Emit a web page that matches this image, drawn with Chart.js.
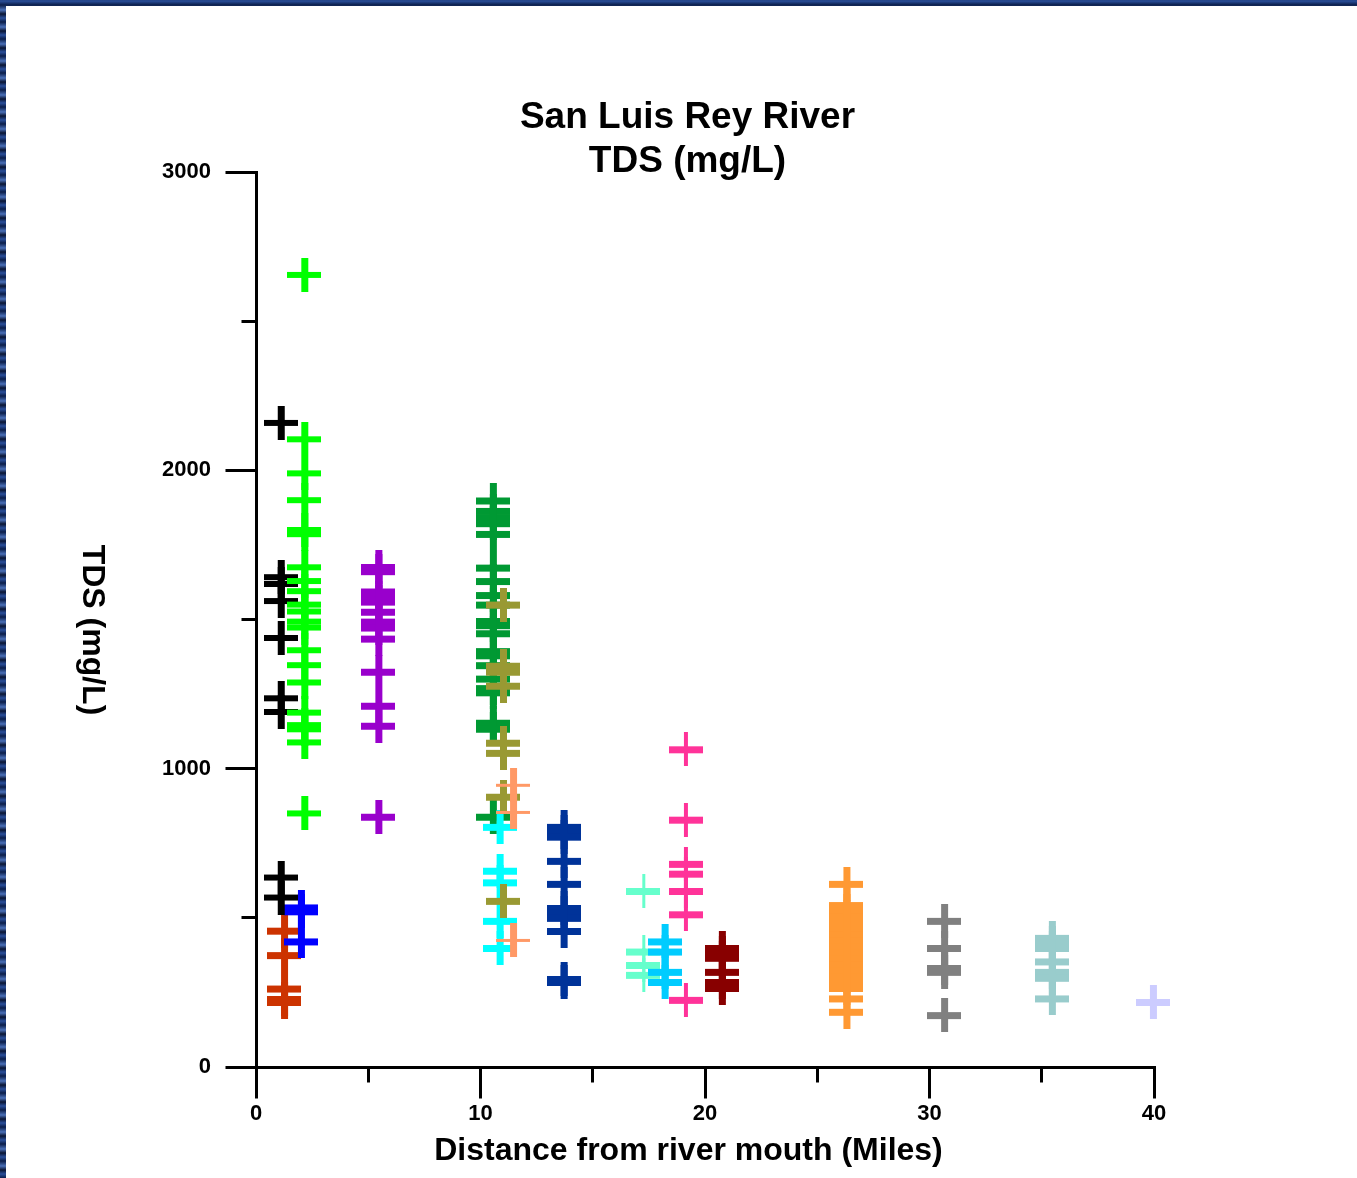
<!DOCTYPE html>
<html>
<head>
<meta charset="utf-8">
<title>San Luis Rey River TDS</title>
<script src="https://cdn.jsdelivr.net/npm/chart.js@4.4.1/dist/chart.umd.min.js"></script>
<style>
  html, body { margin: 0; padding: 0; }
  body {
    width: 1357px; height: 1178px; overflow: hidden; position: relative;
    background: repeating-linear-gradient(0deg, #0b1e4a 0px, #2a4f9a 4px, #0a1533 8px, #4a70b8 12px, #0b1e4a 17px);
  }
  #wrap { position: absolute; left: 6px; top: 6px; width: 1351px; height: 1172px; background: #fff; }
</style>
</head>
<body>
<div id="wrap"><canvas id="tds-chart"></canvas></div>
<script>
const titleLines = ['San Luis Rey River', 'TDS (mg/L)']
const xTitle = 'Distance from river mouth (Miles)'
const yTitle = 'TDS (mg/L)'

const xMajor = [0, 10, 20, 30, 40]
const xMinor = [5, 15, 25, 35]
const yMajor = [0, 1000, 2000, 3000]
const yMinor = [500, 1500, 2500]

// sites, listed top layer first (first dataset is drawn last by Chart.js)
const siteMiles = [11.45, 11.0, 10.85, 10.55, 2.15, 1.1, 2.0, 1.25, 5.45, 13.7, 18.2, 17.25, 19.15, 20.75, 26.3, 30.65, 35.45, 39.95]
const siteColors = ['#ff9966', '#999933', '#00ffff', '#009933', '#00ff00', '#000000', '#0000ff', '#cc3300', '#9900cc',
  '#003399', '#00ccff', '#66ffcc', '#ff3399', '#880000', '#ff9933', '#808080', '#99cccc', '#ccccff']
// bar thickness of the cross: [horizontal, vertical]
const siteBars = [[3, 7], [7, 7], [7, 7], [7, 7], [6, 7], [6, 7], [7, 7], [7, 7], [7, 7],
  [7, 7], [7, 7], [7, 3], [7, 4], [7, 7], [7, 7], [7, 7], [7, 7], [7, 7]]

const tdsSalmon = [946, 855, 426]
const tdsOlive = [1550, 1345, 1325, 1278, 1087, 1053, 906, 557]
const tdsCyan = [805, 658, 619, 490, 399]
const tdsDarkGreen = [1899, 1864, 1843, 1823, 1787, 1674, 1629, 1582, 1550, 1495, 1481, 1454, 1394, 1380, 1347, 1302, 1270, 1256, 1154, 1134, 839]
const tdsLime = [2655, 2104, 1990, 1900, 1800, 1786, 1675, 1629, 1595, 1550, 1527, 1493, 1473, 1397, 1347, 1289, 1188, 1146, 1132, 1088, 850]
const tdsBlack = [2159, 1642, 1619, 1562, 1438, 1236, 1190, 635, 568]
const tdsBlue = [535, 522, 421]
const tdsRed = [457, 375, 263, 228, 218]
const tdsPurple = [1676, 1662, 1594, 1573, 1560, 1526, 1493, 1473, 1436, 1325, 1211, 1144, 839]
const tdsNavy = [805, 788, 772, 691, 614, 533, 517, 500, 456, 295, 285]
const tdsSkyBlue = [421, 387, 319, 285]
const tdsAqua = [590, 387, 342, 309]
const tdsPink = [1065, 829, 681, 648, 590, 512, 225]
const tdsMaroon = [399, 382, 366, 319, 285, 265]
const tdsOrange = [614, 543, 523, 504, 483, 464, 444, 424, 404, 384, 364, 345, 325, 305, 285, 265, 230, 185]
const tdsGray = [490, 399, 332, 319, 174]
const tdsTeal = [433, 416, 399, 354, 319, 299, 230]
const tdsLavender = [218]

const tdsBySite = [tdsSalmon, tdsOlive, tdsCyan, tdsDarkGreen, tdsLime, tdsBlack, tdsBlue, tdsRed, tdsPurple,
  tdsNavy, tdsSkyBlue, tdsAqua, tdsPink, tdsMaroon, tdsOrange, tdsGray, tdsTeal, tdsLavender]

const boldFont = '"Liberation Sans", Arial, Helvetica, sans-serif'

function crossMark(color, hBar, vBar) {
  const c = document.createElement('canvas')
  c.width = 34
  c.height = 34
  const g = c.getContext('2d')
  g.fillStyle = color
  g.fillRect(0, Math.round((34 - hBar) / 2), 34, hBar)
  g.fillRect(Math.round((34 - vBar) / 2), 0, vBar, 34)
  return c
}

const datasets = tdsBySite.map((vals, i) => ({
  data: vals.map(v => ({ x: siteMiles[i], y: v })),
  pointStyle: crossMark(siteColors[i], siteBars[i][0], siteBars[i][1]),
  pointRadius: 17,
  showLine: false,
  clip: false
}))

function crispLine(ctx, x1, y1, x2, y2) {
  ctx.beginPath()
  ctx.moveTo(x1, y1)
  ctx.lineTo(x2, y2)
  ctx.stroke()
}
const half = p => Math.round(p - 1.5) + 1.5

// major / minor tick marks outside the axes
const tickMarks = {
  id: 'tickMarks',
  afterDraw(chart) {
    const { ctx, scales: { x, y } } = chart
    const axisX = half(chart.chartArea.left)
    const axisY = half(chart.chartArea.bottom)
    ctx.save()
    ctx.strokeStyle = '#000'
    ctx.lineWidth = 3
    yMajor.forEach(v => crispLine(ctx, axisX - 31, half(y.getPixelForValue(v)), axisX + 1.5, half(y.getPixelForValue(v))))
    yMinor.forEach(v => crispLine(ctx, axisX - 15, half(y.getPixelForValue(v)), axisX, half(y.getPixelForValue(v))))
    xMajor.forEach(v => crispLine(ctx, half(x.getPixelForValue(v)), axisY - 1.5, half(x.getPixelForValue(v)), axisY + 31))
    xMinor.forEach(v => crispLine(ctx, half(x.getPixelForValue(v)), axisY, half(x.getPixelForValue(v)), axisY + 15))
    ctx.restore()
  }
}

const titles = {
  id: 'titles',
  afterDraw(chart) {
    const ctx = chart.ctx
    ctx.save()
    ctx.fillStyle = '#000'
    ctx.textAlign = 'center'
    ctx.textBaseline = 'alphabetic'
    ctx.font = 'bold 37px ' + boldFont
    ctx.fillText(titleLines[0], 681.5, 122)
    ctx.fillText(titleLines[1], 681.5, 166)
    ctx.font = 'bold 32px ' + boldFont
    ctx.fillText(xTitle, 682.5, 1154)
    ctx.translate(86, 624)
    ctx.rotate(Math.PI / 2)
    ctx.textBaseline = 'middle'
    ctx.fillText(yTitle, 0, 0)
    ctx.restore()
  }
}

const ctx1 = document.getElementById('tds-chart')

new Chart(ctx1, {
  type: 'scatter',
  data: { datasets: datasets },
  plugins: [tickMarks, titles],
  options: {
    responsive: true,
    maintainAspectRatio: false,
    animation: false,
    events: [],
    layout: { padding: { top: 166, right: 203, left: 0, bottom: 0 } },
    plugins: { legend: { display: false }, tooltip: { enabled: false } },
    scales: {
      x: {
        type: 'linear', min: 0, max: 40,
        afterBuildTicks: s => { s.ticks = xMajor.map(v => ({ value: v })) },
        afterFit: s => { s.height = 111 },
        grid: { display: false },
        border: { display: true, color: '#000', width: 3 },
        ticks: { color: '#000', padding: 26, maxRotation: 0, callback: v => String(v), font: { family: boldFont, size: 22, weight: 'bold' } }
      },
      y: {
        type: 'linear', min: 0, max: 3000,
        afterBuildTicks: s => { s.ticks = yMajor.map(v => ({ value: v })) },
        afterFit: s => { s.width = 250 },
        grid: { display: false },
        border: { display: true, color: '#000', width: 3 },
        ticks: { color: '#000', padding: 37, callback: v => String(v), font: { family: boldFont, size: 22, weight: 'bold' } }
      }
    }
  }
})
</script>
</body>
</html>
